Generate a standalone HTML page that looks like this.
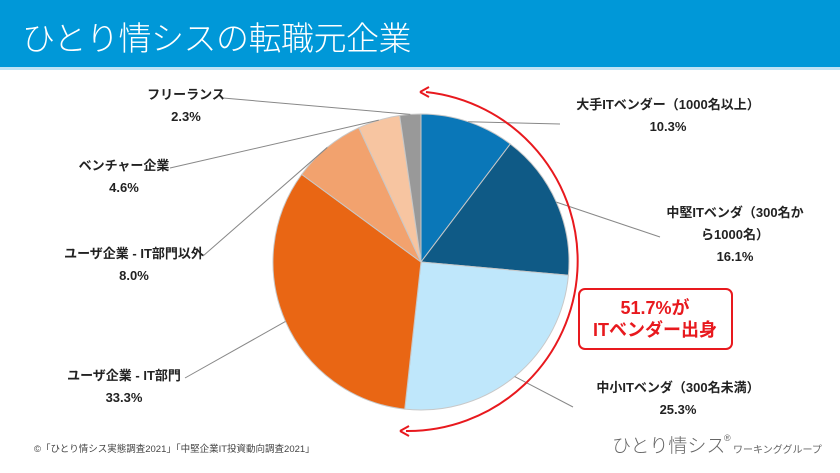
<!DOCTYPE html>
<html><head><meta charset="utf-8"><style>
body{margin:0;width:840px;height:473px;background:#fff;overflow:hidden;font-family:"Liberation Sans","Noto Sans CJK JP",sans-serif}
#hdr{position:absolute;left:0;top:0;width:840px;height:67px;background:#0098d8;border-bottom:3px solid #bfe3f5}
#hdr h1{margin:0;position:absolute;left:22px;top:12px;font-size:33px;font-weight:300;color:#fff;letter-spacing:-0.5px}
</style></head><body>
<div id="hdr"><h1>ひとり情シスの転職元企業</h1></div>
<svg id="chart" width="840" height="473" style="position:absolute;left:0;top:0"></svg>
<script>
const categories=["大手ITベンダー（1000名以上）","中堅ITベンダ（300名から1000名）","中小ITベンダ（300名未満）","ユーザ企業 - IT部門","ユーザ企業 - IT部門以外","ベンチャー企業","フリーランス"];
const values=[10.3,16.1,25.3,33.3,8.0,4.6,2.3];
const valueLabels=["10.3%","16.1%","25.3%","33.3%","8.0%","4.6%","2.3%"];
const colors=["#0a77b8","#0f5a86","#bfe7fb","#e96614","#f2a26e","#f7c5a1","#999999"];
const NS="http://www.w3.org/2000/svg";
const svg=document.getElementById('chart');
const cx=421,cy=262,r=148;
function mk(t,a,p){const e=document.createElementNS(NS,t);for(const k in a)e.setAttribute(k,a[k]);(p||svg).appendChild(e);return e;}
function pt(a,rr){return [cx+rr*Math.sin(a),cy-rr*Math.cos(a)];}
const total=values.reduce((s,v)=>s+v,0);
let acc=0;
const lbl=[
 {lines:["大手ITベンダー（1000名以上）","10.3%"],x:668,y:109,lx:560,ly:124},
 {lines:["中堅ITベンダ（300名か","ら1000名）","16.1%"],x:735,y:217,lx:660,ly:237},
 {lines:["中小ITベンダ（300名未満）","25.3%"],x:678,y:392,lx:573,ly:407},
 {lines:["ユーザ企業 - IT部門","33.3%"],x:124,y:380,lx:185,ly:378},
 {lines:["ユーザ企業 - IT部門以外","8.0%"],x:134,y:258,lx:203,ly:256},
 {lines:["ベンチャー企業","4.6%"],x:124,y:170,lx:170,ly:168},
 {lines:["フリーランス","2.3%"],x:186,y:99,lx:223,ly:98}];
values.forEach((v,i)=>{
 const a0=acc/total*2*Math.PI;acc+=v;const a1=acc/total*2*Math.PI;
 const p0=pt(a0,r),p1=pt(a1,r);
 const s=mk('path',{d:`M${cx},${cy}L${p0[0]},${p0[1]}A${r},${r} 0 ${a1-a0>Math.PI?1:0} 1 ${p1[0]},${p1[1]}Z`,fill:colors[i],stroke:'#c8c8c8','stroke-width':1});
 
 
 const am=(a0+a1)/2,pm=pt(am,r),L=lbl[i];
 const ln=mk('polyline',{points:`${pm[0]},${pm[1]} ${L.lx},${L.ly}`,fill:'none',stroke:'#888','stroke-width':1});
 
 
 const lines=[...L.lines];lines[lines.length-1]=valueLabels[i];
 lines.forEach((t,j)=>{const tx=mk('text',{x:L.x,y:L.y+j*22,'text-anchor':'middle','font-size':13,'font-weight':'bold',fill:'#222'});tx.textContent=t;
  
  });
});
const ra=170;
const arc=mk('path',{d:`M${cx+5},${cy-ra} A${ra},${ra} 0 0 1 ${cx-15},${cy+ra-1}`,fill:'none',stroke:'#e8191e','stroke-width':2});


[[cx+5,cy-ra],[cx-15,cy+ra-1]].forEach(p=>{const h=mk('path',{d:`M${p[0]-6},${p[1]} l9,-5 M${p[0]-6},${p[1]} l9,5`,stroke:'#e8191e','stroke-width':2,fill:'none'});
 
 });
const box=mk('rect',{x:579,y:289,width:153,height:60,rx:6,fill:'#fff',stroke:'#e8191e','stroke-width':2});


["51.7%が","ITベンダー出身"].forEach((t,j)=>{const tx=mk('text',{x:655,y:314+j*22,'text-anchor':'middle','font-size':18,'font-weight':'bold',fill:'#e8191e'});tx.textContent=t;
 
 });
const src=mk('text',{x:34,y:452,'font-size':9.5,fill:'#444'});src.textContent="©「ひとり情シス実態調査2021」「中堅企業IT投資動向調査2021」";


const lg=mk('text',{x:612,y:452,'font-size':19,fill:'#666','font-weight':300});lg.textContent="ひとり情シス";


const rg=mk('text',{x:724,y:441,'font-size':9,fill:'#666'});rg.textContent="®";


const wg=mk('text',{x:733,y:453,'font-size':10,fill:'#666'});wg.textContent="ワーキンググループ";


</script>
</body></html>
